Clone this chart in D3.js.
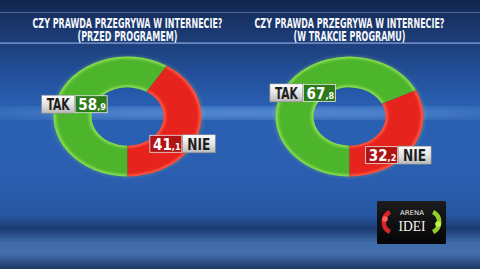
<!DOCTYPE html>
<html>
<head>
<meta charset="utf-8">
<script src="https://cdn.jsdelivr.net/npm/d3@7"></script>
<style>
  html, body { margin: 0; padding: 0; background: #1d3f7c; }
  svg { display: block; }
</style>
</head>
<body>
<svg id="chart" width="480" height="269"></svg>
<script>
// Data
const questions = ["CZY PRAWDA PRZEGRYWA W INTERNECIE?", "CZY PRAWDA PRZEGRYWA W INTERNECIE?"];
const subtitles = ["(PRZED PROGRAMEM)", "(W TRAKCIE PROGRAMU)"];
const answers = ["TAK", "NIE"];
const takValues = [58.9, 67.8];
const nieValues = [41.1, 32.2];

const width = 480, height = 269;
const svg = d3.select("#chart");
const defs = svg.append("defs");

const font = "'Liberation Sans Narrow', 'DejaVu Sans Condensed', 'Roboto Condensed', sans-serif";

// Background
const bg = defs.append("linearGradient").attr("id", "bg").attr("x1", 0).attr("y1", 0).attr("x2", 0).attr("y2", 1);
[[0, "#11244c"], [0.05, "#172f5f"], [0.16, "#1d3f7c"], [0.3, "#2453a0"], [0.4, "#2a60b2"],
 [0.5, "#2a60b2"], [0.7, "#2b5dae"], [0.8, "#2656a0"], [0.85, "#1b3a70"], [0.9, "#3e6aa8"],
 [0.94, "#4572ad"], [1, "#1d3766"]]
  .forEach(([o, c]) => bg.append("stop").attr("offset", o).attr("stop-color", c));

const streak = defs.append("linearGradient").attr("id", "streak").attr("x1", 0).attr("y1", 0).attr("x2", 1).attr("y2", 0);
[[0, 0.15], [0.3, 0.55], [0.5, 0.6], [0.75, 0.55], [1, 0.2]]
  .forEach(([o, a]) => streak.append("stop").attr("offset", o).attr("stop-color", "#7fb2f0").attr("stop-opacity", a));

const blur = defs.append("filter").attr("id", "blur").attr("x", "-20%").attr("y", "-20%").attr("width", "140%").attr("height", "140%");
blur.append("feGaussianBlur").attr("stdDeviation", 4);
const soft = defs.append("filter").attr("id", "soft").attr("x", "-20%").attr("y", "-20%").attr("width", "140%").attr("height", "140%");
soft.append("feGaussianBlur").attr("stdDeviation", 1.5);

svg.append("rect").attr("width", width).attr("height", height).attr("fill", "url(#bg)");
svg.append("rect").attr("x", -20).attr("y", 108).attr("width", width + 40).attr("height", 10)
  .attr("fill", "url(#streak)").attr("filter", "url(#blur)");

// title band lines
svg.append("rect").attr("x", 0).attr("y", 12).attr("width", width).attr("height", 1)
  .attr("fill", "#6f8fc0").attr("opacity", 0.6);
svg.append("rect").attr("x", 0).attr("y", 42.5).attr("width", width).attr("height", 1.2)
  .attr("fill", "#a8c4ef").attr("opacity", 0.8);

// Scales
const x = d3.scalePoint().domain(subtitles).range([127.5, 349.5]);
const cy = 116.5;
const yScale = 0.81;
const outerR = 74, innerR = 36;
const colors = d3.scaleOrdinal().domain(answers).range(["#4db52b", "#e6231c"]);
const glowColors = d3.scaleOrdinal().domain(answers).range(["#9fe860", "#ff6a55"]);
const boxColors = d3.scaleOrdinal().domain(answers).range(["#2c7a1a", "#b01414"]);

const pie = d3.pie().sort(null).value(d => d.value).startAngle(Math.PI).endAngle(3 * Math.PI);
const arc = d3.arc().innerRadius(innerR).outerRadius(outerR);
const mid = d3.arc().innerRadius((innerR + outerR) / 2).outerRadius((innerR + outerR) / 2);
const outerLine = d3.arc().innerRadius(outerR - 0.5).outerRadius(outerR - 0.5);
const innerLine = d3.arc().innerRadius(innerR + 0.5).outerRadius(innerR + 0.5);

// Titles
subtitles.forEach((sub, i) => {
  const g = svg.append("g").attr("transform", `translate(${x(sub)},0)`);
  g.append("text").attr("x", 0).attr("y", 28).attr("text-anchor", "middle")
    .attr("font-family", font).attr("font-weight", "bold").attr("font-size", 13.5)
    .attr("fill", "#f4f6fa").attr("textLength", 190).attr("lengthAdjust", "spacingAndGlyphs")
    .text(questions[i]);
  g.append("text").attr("x", 0).attr("y", 40.5).attr("text-anchor", "middle")
    .attr("font-family", font).attr("font-weight", "bold").attr("font-size", 13.5)
    .attr("fill", "#f4f6fa").attr("textLength", i === 0 ? 100 : 112).attr("lengthAdjust", "spacingAndGlyphs")
    .text(sub);
});

// Label gradients
const lg = defs.append("linearGradient").attr("id", "lightbox").attr("x1", 0).attr("y1", 0).attr("x2", 0).attr("y2", 1);
[[0, "#ffffff"], [0.5, "#e4e4e4"], [1, "#b9b9b9"]].forEach(([o, c]) => lg.append("stop").attr("offset", o).attr("stop-color", c));

// Donuts
subtitles.forEach((sub, i) => {
  const data = [{ name: "TAK", value: takValues[i] }, { name: "NIE", value: nieValues[i] }];
  const arcs = pie(data);
  const tr = `translate(${x(sub)},${cy}) scale(1,${yScale})`;
  const ring = svg.append("g").attr("transform", tr);

  // faint outer halo
  ring.append("circle").attr("r", outerR + 0.5).attr("fill", "none")
    .attr("stroke", "#b8ec80").attr("stroke-width", 1.5).attr("opacity", 0.3).attr("filter", "url(#soft)");

  arcs.forEach((a, j) => {
    defs.append("clipPath").attr("id", `clip${i}${j}`).append("path").attr("d", arc(a)).attr("transform", tr);
  });

  ring.selectAll("path.seg").data(arcs).join("path").attr("class", "seg")
    .attr("d", arc).attr("fill", d => colors(d.data.name));

  // inner glow along the curved edges only
  arcs.forEach((a, j) => {
    [outerLine, innerLine].forEach(line => {
      svg.append("g").attr("clip-path", `url(#clip${i}${j})`)
        .append("path").attr("d", line(a)).attr("transform", tr)
        .attr("fill", "none").attr("stroke", glowColors(a.data.name)).attr("stroke-width", 4)
        .attr("filter", "url(#soft)").attr("opacity", 0.8);
    });
  });

  // Labels at arc centroids
  arcs.forEach(a => {
    const [mx, my] = mid.centroid(a);
    const isTak = a.data.name === "TAK";
    const lx = mx + (isTak ? 0 : 2);
    const ly = my * yScale + (isTak ? 0 : 15);
    const boxW = 33, boxH = 18;
    const lab = svg.append("g").attr("transform", `translate(${x(sub) + lx},${cy + ly})`);
    const parts = isTak ? ["word", "value"] : ["value", "word"];
    parts.forEach((p, k) => {
      const bx = (k === 0 ? -boxW : 0);
      if (p === "word") {
        lab.append("rect").attr("x", bx).attr("y", -boxH / 2).attr("width", boxW).attr("height", boxH)
          .attr("fill", "url(#lightbox)").attr("stroke", "#8a8a8a").attr("stroke-width", 0.6);
        lab.append("text").attr("x", bx + boxW / 2).attr("y", 5.8).attr("text-anchor", "middle")
          .attr("font-family", font).attr("font-weight", "bold").attr("font-size", 15)
          .attr("textLength", 23).attr("lengthAdjust", "spacingAndGlyphs")
          .attr("fill", "#1e1e1e").text(a.data.name);
      } else {
        lab.append("rect").attr("x", bx + 0.5).attr("y", -boxH / 2 + 0.5).attr("width", boxW - 1).attr("height", boxH - 1)
          .attr("fill", boxColors(a.data.name)).attr("stroke", "#e8e8e8").attr("stroke-width", 0.8);
        const [whole, frac] = a.data.value.toFixed(1).split(".");
        const split = bx + boxW / 2 + 6;
        lab.append("text").attr("x", split).attr("y", 5.8).attr("text-anchor", "end")
          .attr("font-family", font).attr("font-weight", "bold").attr("font-size", 15)
          .attr("fill", "#ffffff").text(whole);
        lab.append("text").attr("x", split).attr("y", 5.8).attr("text-anchor", "start")
          .attr("font-family", font).attr("font-weight", "bold").attr("font-size", 9)
          .attr("fill", "#ffffff").text("," + frac);
      }
    });
  });
});

// Logo
const logo = svg.append("g").attr("transform", "translate(377,201)");
const lgB = defs.append("linearGradient").attr("id", "logobg").attr("x1", 0).attr("y1", 0).attr("x2", 0).attr("y2", 1);
[[0, "#1c1c1c"], [1, "#050505"]].forEach(([o, c]) => lgB.append("stop").attr("offset", o).attr("stop-color", c));
logo.append("rect").attr("width", 69).attr("height", 43).attr("rx", 1.5).attr("fill", "url(#logobg)");
const bracket = d3.arc().innerRadius(9).outerRadius(13.5);
logo.append("path").attr("transform", "translate(18,21)")
  .attr("d", bracket({ startAngle: Math.PI * 1.15, endAngle: Math.PI * 1.85 }))
  .attr("fill", "#d9232a");
logo.append("circle").attr("cx", 8).attr("cy", 18).attr("r", 2.8).attr("fill", "#ff6060");
logo.append("path").attr("transform", "translate(51,21)")
  .attr("d", bracket({ startAngle: Math.PI * 0.15, endAngle: Math.PI * 0.85 }))
  .attr("fill", "#8fcf2c");
logo.append("circle").attr("cx", 61).attr("cy", 23).attr("r", 2.8).attr("fill", "#c2f24a");
logo.append("text").attr("x", 35).attr("y", 14).attr("text-anchor", "middle")
  .attr("font-family", "'DejaVu Sans', sans-serif").attr("font-size", 6.5).attr("fill", "#f0f0f0")
  .attr("textLength", 24).attr("lengthAdjust", "spacingAndGlyphs").text("ARENA");
logo.append("text").attr("x", 35).attr("y", 30).attr("text-anchor", "middle")
  .attr("font-family", "'Liberation Serif', 'DejaVu Serif', serif").attr("font-size", 15).attr("fill", "#f4f4f4")
  .attr("textLength", 27).attr("lengthAdjust", "spacingAndGlyphs").text("IDEI");
</script>
</body>
</html>
